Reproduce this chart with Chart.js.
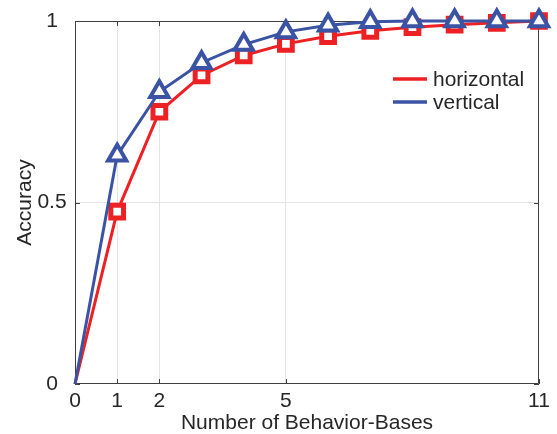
<!DOCTYPE html>
<html>
<head>
<meta charset="utf-8">
<script src="https://cdn.jsdelivr.net/npm/chart.js@4/dist/chart.umd.min.js"></script>
<style>
  html, body { margin: 0; padding: 0; background: #ffffff; }
  #wrap { width: 557px; height: 434px; position: relative; }
</style>
</head>
<body>
<div id="wrap"><canvas id="c"></canvas></div>
<script>
// ---- data ----
const xValues = [0, 1, 2, 3, 4, 5, 6, 7, 8, 9, 10, 11];
const horizontalAcc = [0, 0.475, 0.75, 0.85, 0.905, 0.937, 0.958, 0.973, 0.983, 0.99, 0.995, 1.0];
const verticalAcc   = [0, 0.63, 0.805, 0.885, 0.935, 0.97, 0.988, 0.998, 1.0, 1.0, 1.0, 1.0];
const seriesLabels = ['horizontal', 'vertical'];
const xTickValues = [0, 1, 2, 5, 11];
const yTickValues = [0, 0.5, 1];
const xTitle = 'Number of Behavior-Bases';
const yTitle = 'Accuracy';

const RED = '#ED2024';
const BLUE = '#3A53A4';
const TEXT = '#262626';
const FONT = "'Liberation Sans', Arial, Helvetica, sans-serif";

const toPoints = (ys) => xValues.map((x, i) => ({ x: x, y: ys[i] }));
const radiusFor = (r) => (ctx) => (ctx.raw && ctx.raw.x === 0) ? 0 : r;

// box + inward ticks
const boxPlugin = {
  id: 'box',
  beforeDatasetsDraw(chart) {
    const { ctx, chartArea: a, scales } = chart;
    ctx.save();
    ctx.strokeStyle = '#404040';
    ctx.lineWidth = 1;
    ctx.beginPath();
    ctx.rect(a.left + 0.5, a.top + 0.5, a.right - a.left - 1, a.bottom - a.top - 1);
    ctx.stroke();
    const tl = 5;
    ctx.beginPath();
    scales.x.ticks.forEach(t => {
      const px = Math.round(scales.x.getPixelForValue(t.value)) + 0.5;
      ctx.moveTo(px, a.bottom); ctx.lineTo(px, a.bottom - tl);
      ctx.moveTo(px, a.top); ctx.lineTo(px, a.top + tl);
    });
    scales.y.ticks.forEach(t => {
      const py = Math.round(scales.y.getPixelForValue(t.value)) + 0.5;
      ctx.moveTo(a.left, py); ctx.lineTo(a.left + tl, py);
      ctx.moveTo(a.right, py); ctx.lineTo(a.right - tl, py);
    });
    ctx.stroke();
    ctx.restore();
  }
};

// legend inside plot area (upper right)
const legendPlugin = {
  id: 'innerLegend',
  afterDraw(chart) {
    const { ctx, chartArea: a } = chart;
    ctx.save();
    ctx.font = "21px " + FONT;
    ctx.textBaseline = 'middle';
    ctx.textAlign = 'left';
    chart.data.datasets.forEach((ds, i) => {
      const y = a.top + 58 + i * 23;
      const x0 = a.right - 146;
      ctx.strokeStyle = ds.borderColor;
      ctx.lineWidth = 3.5;
      ctx.beginPath();
      ctx.moveTo(x0, y); ctx.lineTo(x0 + 34, y);
      ctx.stroke();
      ctx.fillStyle = TEXT;
      ctx.fillText(ds.label, x0 + 40, y + 1);
    });
    ctx.restore();
  }
};

new Chart(document.getElementById('c'), {
  type: 'line',
  data: {
    datasets: [
      {
        label: seriesLabels[0],
        data: toPoints(horizontalAcc),
        borderColor: RED,
        backgroundColor: '#ffffff',
        borderWidth: 3,
        pointStyle: 'rect',
        pointRadius: radiusFor(9),
        pointBorderWidth: 5,
        pointBackgroundColor: '#ffffff',
        pointBorderColor: RED,
        tension: 0,
        clip: false,
        order: 2
      },
      {
        label: seriesLabels[1],
        data: toPoints(verticalAcc),
        borderColor: BLUE,
        backgroundColor: '#ffffff',
        borderWidth: 3,
        pointStyle: 'triangle',
        pointRadius: radiusFor(10.5),
        pointBorderWidth: 4,
        pointBackgroundColor: '#ffffff',
        pointBorderColor: BLUE,
        tension: 0,
        clip: false,
        order: 1
      }
    ]
  },
  options: {
    responsive: true,
    maintainAspectRatio: false,
    animation: false,
    layout: { padding: { left: 0, right: 18, top: 19, bottom: 0 } },
    plugins: {
      legend: { display: false },
      tooltip: { enabled: false }
    },
    scales: {
      x: {
        type: 'linear',
        min: 0,
        max: 11,
        afterBuildTicks: (s) => { s.ticks = xTickValues.map(v => ({ value: v })); },
        afterFit: (s) => { s.height = 50; },
        ticks: {
          color: TEXT,
          font: { family: FONT, size: 21 },
          padding: 4.4,
          maxRotation: 0,
          autoSkip: false,
          callback: (v) => String(v)
        },
        grid: {
          drawTicks: false,
          color: (c) => (c.tick && (c.tick.value === 0 || c.tick.value === 11)) ? 'rgba(0,0,0,0)' : '#e4e4e4',
          lineWidth: 1
        },
        border: { display: false },
        title: {
          display: true,
          text: xTitle,
          color: TEXT,
          font: { family: FONT, size: 21, lineHeight: 1 },
          padding: { top: 0, bottom: 0 }
        }
      },
      y: {
        type: 'linear',
        min: 0,
        max: 1,
        afterBuildTicks: (s) => { s.ticks = yTickValues.map(v => ({ value: v })); },
        afterFit: (s) => { s.width = 75; },
        ticks: {
          color: TEXT,
          font: { family: FONT, size: 21 },
          padding: 8.4,
          crossAlign: 'center',
          autoSkip: false,
          callback: (v) => String(v)
        },
        grid: {
          drawTicks: false,
          color: (c) => (c.tick && (c.tick.value === 0 || c.tick.value === 1)) ? 'rgba(0,0,0,0)' : '#e4e4e4',
          lineWidth: 1
        },
        border: { display: false },
        title: {
          display: true,
          text: yTitle,
          color: TEXT,
          font: { family: FONT, size: 21, lineHeight: 1.2 },
          padding: { top: 12.4, bottom: 0 }
        }
      }
    }
  },
  plugins: [boxPlugin, legendPlugin]
});
</script>
</body>
</html>
